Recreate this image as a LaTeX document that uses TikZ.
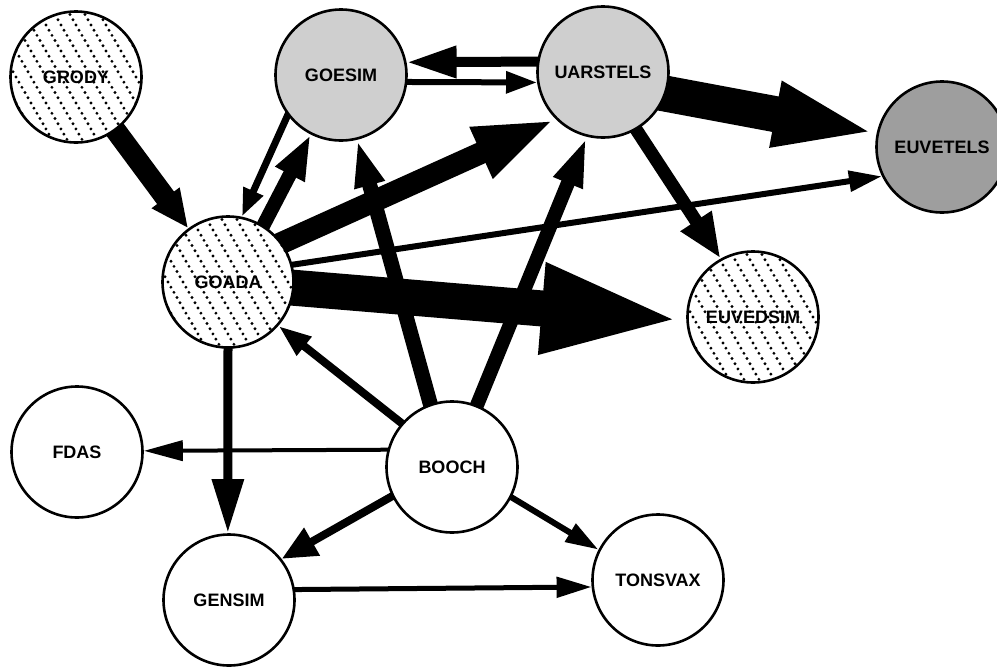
\documentclass[tikz,border=0pt]{standalone}
\usepackage{fontspec}
\setmainfont{Liberation Sans}
\usetikzlibrary{arrows.meta,calc,backgrounds}
\tikzset{
  mod/.style={circle, draw=black, line width=2.6pt, minimum size=131pt, inner sep=0pt,
    fill=white, font=\fontsize{18}{18}\selectfont\bfseries},
  hatched/.style={mod, path picture={
     \foreach \i in {-11,...,11}{
       \draw[black, line width=3.2pt, line cap=round, dash pattern=on 0pt off 6pt]
         ($(path picture bounding box.center)+(\i*15,0)+(-45,-78)$) -- ++(90,156);
     }}},
  lightstip/.style={mod, fill=black!19},
  darkstip/.style={mod, fill=black!38},
  fat/.style n args={3}{line width=#1pt, -{Triangle[width=#2pt,length=#3pt]}, shorten <=-6pt},
}
\begin{document}
\begin{tikzpicture}[x=1pt, y=-1pt]
\useasboundingbox (0,0) rectangle (997,667);
\node[hatched] (grody) at (76,77) {GRODY};
\node[lightstip] (goesim) at (341,75) {GOESIM};
\node[lightstip] (uars) at (603,72) {UARSTELS};
\node[darkstip] (euvetels) at (942,147) {EUVETELS};
\node[hatched] (goada) at (228,282) {GOADA};
\node[hatched] (euvedsim) at (753,317) {EUVEDSIM};
\node[mod] (fdas) at (77,452) {FDAS};
\node[mod] (booch) at (452,467) {BOOCH};
\node[mod] (gensim) at (229,600) {GENSIM};
\node[mod] (tonsvax) at (658,580) {TONSVAX};
\begin{scope}[on background layer]
\draw[fat={21}{32}{38}] (grody) -- (goada);
\draw[fat={7}{20}{28}] (goesim.217) -- (goada.78);
\draw[fat={14}{30}{45}] (goada.58) -- (goesim.243);
\draw[fat={15}{28}{47}] (booch.109) -- (goesim.284);
\draw[fat={22}{50}{82}] (goada.36) -- (uars.225);
\draw[fat={6}{20}{33}] (goada.15) -- (euvetels.206);
\draw[fat={36}{80}{145}] (goada.-5) -- (euvedsim.183);
\draw[fat={10}{30}{50}] (uars.171) -- (goesim.11);
\draw[fat={6}{21}{31}] (goesim.-6) -- (uars.189);
\draw[fat={36}{59}{103}] (uars.-19) -- (euvetels.168);
\draw[fat={13}{34}{45}] (uars.-60) -- (euvedsim.119);
\draw[fat={14}{28}{50}] (booch.68) -- (uars.256);
\draw[fat={8}{22}{33}] (booch.139) -- (goada.-41);
\draw[fat={4}{20}{39}] (booch.165) -- (fdas.1);
\draw[fat={9}{30}{54}] (goada.270) -- (gensim.91);
\draw[fat={8}{30}{35}] (booch.206) -- (gensim.38);
\draw[fat={6}{20}{33}] (booch.-27) -- (tonsvax.153);
\draw[fat={5}{20}{35}] (gensim.9) -- (tonsvax.186);
\end{scope}
\end{tikzpicture}
\end{document}
